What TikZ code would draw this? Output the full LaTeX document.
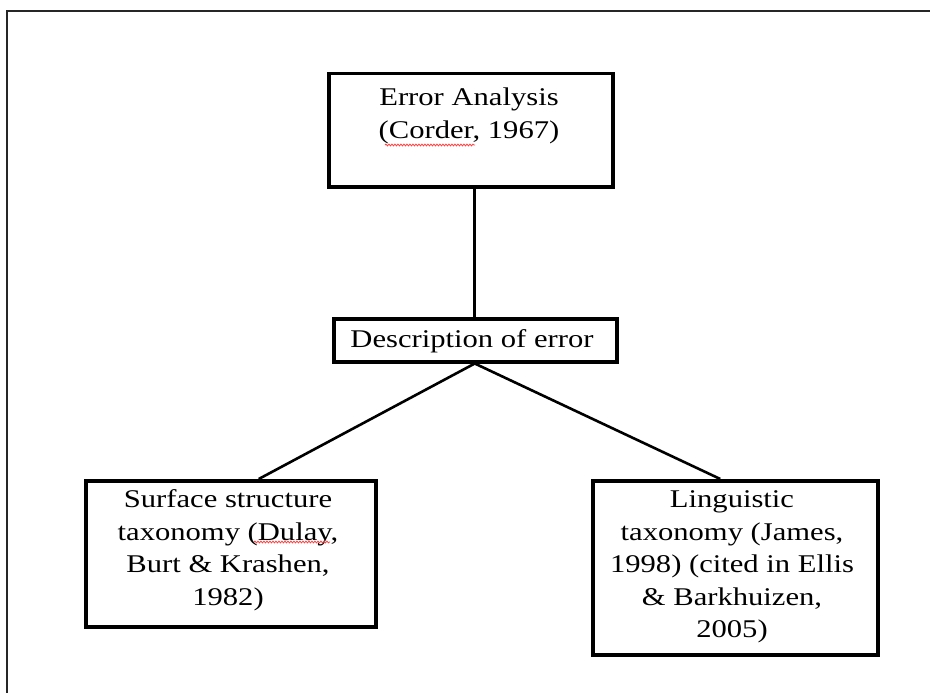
\documentclass[tikz,border=0pt]{standalone}
\usepackage{fontspec}
\setmainfont{Liberation Serif}[FakeStretch=1.2]
\usetikzlibrary{decorations.pathmorphing}
\tikzset{
  boxshape/.style={draw=black, line width=3.5pt, rectangle, inner sep=0pt, anchor=north west},
  boxtext/.style={align=center, inner sep=0pt, font=\fontsize{25.5}{32.5}\selectfont, text=black},
  link/.style={draw=black, line width=2.6pt},
  frame/.style={draw=black!85, line width=1.8pt},
  squig/.style={draw=red!75!white, line width=0.8pt, decorate, decoration={snake, amplitude=0.9pt, segment length=3pt}}
}
\begin{document}
\begin{tikzpicture}[x=1pt, y=-1pt]
\useasboundingbox[fill=white] (0,0) rectangle (930,693);
% outer frame (left and top visible)
\coordinate (fa) at (7,693);
\coordinate (fb) at (7,11);
\coordinate (fc) at (930,11);
\draw[frame] (fa) -- (fb) -- (fc);
% boxes
\node[boxshape, minimum width=284pt, minimum height=113pt] (A) at (327,72) {};
\node[boxshape, minimum width=283pt, minimum height=43pt] (D) at (332,317) {};
\node[boxshape, minimum width=290pt, minimum height=146pt] (L) at (84,479) {};
\node[boxshape, minimum width=285pt, minimum height=174pt] (R) at (591,479) {};
% texts
\node[boxtext] (tA) at (469,116) {Error Analysis\\(Corder, 1967)};
\node[boxtext] (tD) at (472,341) {Description of error};
\node[boxtext] (tL) at (228,550) {Surface structure\\taxonomy (Dulay,\\Burt \& Krashen,\\1982)};
\node[boxtext] (tR) at (732,567) {Linguistic\\taxonomy (James,\\1998) (cited in Ellis\\\& Barkhuizen,\\2005)};
% spell-check marks
\coordinate (s1a) at (385,145);
\coordinate (s1b) at (475,145);
\coordinate (s2a) at (254,542);
\coordinate (s2b) at (330,542);
\draw[squig] (s1a) -- (s1b);
\draw[squig] (s2a) -- (s2b);
% connectors
\draw[link] ([xshift=4pt]A.south) -- ([xshift=-0.5pt]D.north);
\draw[link] ([xshift=-0.5pt]D.south) -- ([xshift=28pt]L.north);
\draw[link] ([xshift=-0.5pt]D.south) -- ([xshift=-15pt]R.north);
\end{tikzpicture}
\end{document}
